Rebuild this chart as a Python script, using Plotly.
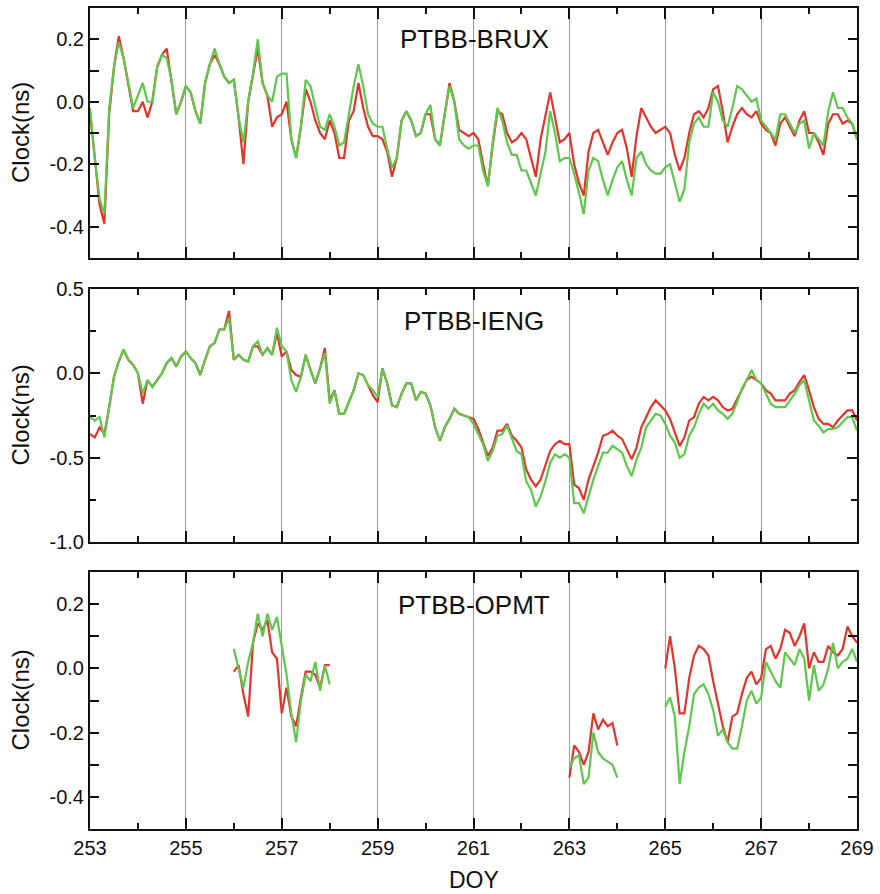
import numpy as np
import plotly.graph_objects as go

# ---------------- data ----------------
doy_full = np.round(np.arange(253.0, 269.0001, 0.1), 1)

# PTBB-BRUX
brux_red = [
    -0.03, -0.19, -0.33, -0.39, -0.04, 0.11, 0.21, 0.14, 0.06, -0.03,
    -0.03, 0.0, -0.05, 0.0, 0.11, 0.15, 0.17, 0.07, -0.04, 0.0,
    0.05, 0.03, -0.03, -0.07, 0.06, 0.12, 0.15, 0.12, 0.08, 0.06,
    0.07, -0.05, -0.20, 0.0, 0.09, 0.17, 0.06, 0.02, -0.08, -0.05,
    -0.04, 0.0, -0.12, -0.18, -0.08, 0.04, 0.0, -0.06, -0.10, -0.12,
    -0.06, -0.10, -0.18, -0.18, -0.06, -0.03, 0.06, -0.02, -0.08, -0.11,
    -0.11, -0.12, -0.16, -0.24, -0.18, -0.06, -0.03, -0.06, -0.11, -0.10,
    -0.04, -0.04, -0.12, -0.14, -0.04, 0.06, 0.0, -0.09, -0.10, -0.11,
    -0.10,
    -0.12, -0.20, -0.27, -0.14, -0.03, -0.04, -0.10, -0.13, -0.12, -0.10,
    -0.12, -0.18, -0.24, -0.12, -0.04, 0.03, -0.05, -0.13, -0.12, -0.10,
    -0.20, -0.26, -0.30, -0.16, -0.10, -0.09, -0.13, -0.17, -0.13, -0.10,
    -0.09, -0.15, -0.24, -0.11, -0.02, -0.05, -0.08, -0.10, -0.09, -0.08,
    -0.10, -0.17, -0.22, -0.18, -0.10, -0.04, -0.03, -0.05, -0.02, 0.04,
    0.05, -0.03, -0.13, -0.08, -0.04, -0.02, -0.04, -0.05, -0.03, -0.07,
    -0.09, -0.10, -0.14, -0.07, -0.05, -0.08, -0.11, -0.06, -0.03, -0.10,
    -0.10, -0.13, -0.17, -0.07, -0.04, -0.04, -0.07, -0.06, -0.07, -0.12,
]
brux_green = [
    -0.02, -0.18, -0.31, -0.36, -0.02, 0.11, 0.19, 0.14, 0.06, -0.02,
    0.02, 0.06, 0.0, 0.0, 0.11, 0.15, 0.14, 0.07, -0.04, 0.0,
    0.05, 0.03, -0.03, -0.07, 0.06, 0.12, 0.17, 0.12, 0.08, 0.06,
    0.07, -0.05, -0.13, 0.0, 0.09, 0.20, 0.06, 0.02, 0.0, 0.08,
    0.09, 0.09, -0.12, -0.18, -0.08, 0.07, 0.05, -0.02, -0.08, -0.09,
    -0.04, -0.08, -0.14, -0.13, -0.04, 0.05, 0.12, 0.05, -0.04, -0.07,
    -0.08, -0.08, -0.15, -0.21, -0.18, -0.06, -0.03, -0.06, -0.11, -0.10,
    -0.04, -0.01, -0.12, -0.14, -0.04, 0.05, 0.0, -0.12, -0.14, -0.15,
    -0.14,
    -0.14, -0.22, -0.27, -0.13, -0.02, -0.06, -0.13, -0.17, -0.17, -0.22,
    -0.22, -0.26, -0.30, -0.23, -0.16, -0.03, -0.10, -0.19, -0.18, -0.18,
    -0.23, -0.29, -0.36, -0.22, -0.18, -0.19, -0.25, -0.30, -0.25, -0.21,
    -0.19, -0.25, -0.30, -0.18, -0.16, -0.20, -0.22, -0.23, -0.23, -0.21,
    -0.20, -0.26, -0.32, -0.28, -0.13, -0.07, -0.05, -0.08, -0.08, 0.03,
    0.0, -0.06, -0.08, -0.02, 0.05, 0.04, 0.02, 0.0, 0.01, -0.06,
    -0.08, -0.10, -0.12, -0.04, -0.04, -0.07, -0.10, -0.07, -0.06, -0.15,
    -0.10, -0.12, -0.14, -0.03, 0.03, -0.02, -0.02, -0.05, -0.07, -0.12,
]

# PTBB-IENG
ieng_red = [
    -0.36, -0.38, -0.32, -0.36, -0.20, -0.02, 0.07, 0.14, 0.08, 0.05,
    0.0, -0.18, -0.04, -0.08, -0.04, 0.0, 0.06, 0.09, 0.04, 0.10,
    0.13, 0.09, 0.06, -0.01, 0.08, 0.16, 0.18, 0.26, 0.26, 0.37,
    0.08, 0.11, 0.08, 0.07, 0.16, 0.16, 0.11, 0.15, 0.11, 0.24,
    0.10, 0.13, 0.02, -0.01, -0.02, 0.11, 0.02, -0.06, 0.03, 0.15,
    -0.16, -0.10, -0.24, -0.24, -0.17, -0.10, 0.0, -0.01, -0.07, -0.13,
    -0.17, 0.03, -0.06, -0.19, -0.20, -0.12, -0.06, -0.06, -0.16, -0.11,
    -0.12, -0.19, -0.32, -0.40, -0.32, -0.27, -0.21, -0.24, -0.25, -0.26,
    -0.27,
    -0.33, -0.41, -0.49, -0.44, -0.34, -0.34, -0.30, -0.37, -0.40, -0.44,
    -0.57, -0.63, -0.67, -0.63, -0.54, -0.46, -0.42, -0.40, -0.42, -0.42,
    -0.66, -0.68, -0.75, -0.63, -0.55, -0.47, -0.37, -0.36, -0.34, -0.37,
    -0.39, -0.45, -0.51, -0.44, -0.32, -0.26, -0.20, -0.16, -0.19, -0.22,
    -0.27, -0.35, -0.43, -0.38, -0.28, -0.26, -0.18, -0.14, -0.16, -0.14,
    -0.16, -0.20, -0.22, -0.21, -0.15, -0.09, -0.04, -0.02, -0.04, -0.06,
    -0.10, -0.12, -0.16, -0.16, -0.16, -0.12, -0.10, -0.05, -0.01, -0.10,
    -0.20, -0.27, -0.30, -0.30, -0.32, -0.28, -0.25, -0.22, -0.22, -0.28,
]
ieng_green = [
    -0.26, -0.28, -0.26, -0.38, -0.20, -0.02, 0.07, 0.14, 0.08, 0.05,
    0.0, -0.12, -0.04, -0.08, -0.04, 0.0, 0.06, 0.09, 0.04, 0.10,
    0.13, 0.09, 0.06, -0.01, 0.08, 0.16, 0.18, 0.26, 0.26, 0.33,
    0.08, 0.11, 0.08, 0.07, 0.16, 0.19, 0.11, 0.15, 0.11, 0.27,
    0.16, 0.13, -0.04, -0.11, -0.02, 0.11, 0.02, -0.06, 0.03, 0.12,
    -0.18, -0.10, -0.24, -0.24, -0.17, -0.10, 0.0, -0.01, -0.07, -0.10,
    -0.14, 0.03, -0.06, -0.19, -0.20, -0.12, -0.06, -0.06, -0.16, -0.11,
    -0.12, -0.19, -0.32, -0.40, -0.32, -0.27, -0.21, -0.24, -0.25, -0.26,
    -0.30,
    -0.36, -0.42, -0.52, -0.46, -0.37, -0.36, -0.31, -0.38, -0.46, -0.48,
    -0.64, -0.69, -0.79, -0.73, -0.64, -0.53, -0.48, -0.50, -0.48, -0.50,
    -0.77, -0.77, -0.83, -0.73, -0.63, -0.55, -0.47, -0.47, -0.43, -0.45,
    -0.47, -0.55, -0.61, -0.51, -0.44, -0.32, -0.28, -0.24, -0.25, -0.30,
    -0.37, -0.41, -0.50, -0.48, -0.37, -0.32, -0.24, -0.18, -0.21, -0.18,
    -0.22, -0.24, -0.27, -0.24, -0.17, -0.09, -0.04, 0.02, -0.04, -0.06,
    -0.12, -0.18, -0.20, -0.20, -0.20, -0.16, -0.12, -0.07, -0.04, -0.16,
    -0.28, -0.31, -0.35, -0.33, -0.33, -0.32, -0.29, -0.26, -0.26, -0.34,
]

# PTBB-OPMT (three data segments)
opmt_seg_start = [256.0, 263.0, 265.0]
opmt_seg_end = [258.0, 264.0, 269.0]
opmt_red = [
    [-0.01, 0.01, -0.08, -0.15, 0.08, 0.14, 0.12, 0.15, 0.05, 0.03,
     -0.14, -0.06, -0.15, -0.18, -0.09, -0.01, -0.01, -0.02, -0.06, 0.01, 0.01],
    [-0.34, -0.24, -0.26, -0.30, -0.26, -0.14, -0.19, -0.16, -0.18, -0.17, -0.24],
    [0.0, 0.10, 0.0, -0.14, -0.14, -0.03, 0.04, 0.07, 0.06, 0.04,
     -0.04, -0.11, -0.18, -0.23, -0.15, -0.14, -0.08, -0.03, -0.01, -0.05,
     -0.03, 0.06, 0.07, 0.03, 0.06, 0.12, 0.11, 0.07, 0.10, 0.14,
     0.0, 0.05, 0.02, 0.02, 0.07, 0.05, 0.04, 0.06, 0.13, 0.10, 0.08],
]
opmt_green = [
    [0.06, 0.0, -0.06, 0.02, 0.08, 0.17, 0.10, 0.17, 0.12, 0.16,
     0.07, -0.02, -0.14, -0.23, -0.10, -0.02, -0.04, 0.02, -0.07, 0.01, -0.05],
    [-0.31, -0.28, -0.27, -0.36, -0.34, -0.20, -0.26, -0.28, -0.29, -0.30, -0.34],
    [-0.12, -0.09, -0.15, -0.36, -0.26, -0.18, -0.08, -0.06, -0.05, -0.08,
     -0.13, -0.21, -0.19, -0.23, -0.25, -0.25, -0.18, -0.10, -0.07, -0.11,
     -0.09, 0.02, -0.01, -0.04, -0.06, 0.05, 0.03, 0.01, 0.06, 0.03,
     -0.10, 0.01, -0.07, -0.05, 0.0, 0.08, 0.0, 0.02, 0.03, 0.06, 0.02],
]

panel_titles = ["PTBB-BRUX", "PTBB-IENG", "PTBB-OPMT"]
x_ticks = [253, 255, 257, 259, 261, 263, 265, 267, 269]
x_minor = [254, 256, 258, 260, 262, 264, 266, 268]
y_small_vals = [-0.5, -0.4, -0.3, -0.2, -0.1, 0.0, 0.1, 0.2, 0.3]
y_small_text = ["", "-0.4", "", "-0.2", "", "0.0", "", "0.2", ""]
y_big_vals = [-1.0, -0.5, 0.0, 0.5]
y_big_text = ["-1.0", "-0.5", "0.0", "0.5"]
y_big_minor = [-0.75, -0.25, 0.25]

# ---------------- build ----------------
RED = "#e2342a"
GREEN = "#5dc84b"
LW = 2.2


def seg_concat(segs):
    xs, ys = [], []
    for s0, s1, vals in segs:
        xx = np.round(np.arange(s0, s1 + 0.0001, 0.1), 1)
        xs += list(xx) + [None]
        ys += list(vals) + [None]
    return xs, ys


fig = go.Figure()

for ys, c, ax in [
    (brux_red, RED, 1), (brux_green, GREEN, 1),
    (ieng_red, RED, 2), (ieng_green, GREEN, 2),
]:
    fig.add_trace(go.Scatter(
        x=doy_full, y=ys, mode="lines", line=dict(color=c, width=LW),
        xaxis="x" if ax == 1 else f"x{ax}", yaxis="y" if ax == 1 else f"y{ax}",
        showlegend=False, hoverinfo="skip"))

xr, yr = seg_concat(zip(opmt_seg_start, opmt_seg_end, opmt_red))
xg, yg = seg_concat(zip(opmt_seg_start, opmt_seg_end, opmt_green))
fig.add_trace(go.Scatter(x=xr, y=yr, mode="lines", line=dict(color=RED, width=LW),
                         xaxis="x3", yaxis="y3", showlegend=False, hoverinfo="skip"))
fig.add_trace(go.Scatter(x=xg, y=yg, mode="lines", line=dict(color=GREEN, width=LW),
                         xaxis="x3", yaxis="y3", showlegend=False, hoverinfo="skip"))

FONT = "Liberation Sans, Arial, sans-serif"
W, H = 880, 894
ml, mr, mt, mb = 90, 23, 8, 65
ph = H - mt - mb
pw = W - ml - mr


def ydom(top_px, bot_px):
    return [(H - mb - bot_px) / ph, (H - mb - top_px) / ph]


doms = [ydom(8, 258), ydom(289, 542), ydom(572, 829)]
TICKFONT = dict(family=FONT, size=20, color="#111")


def xaxis_cfg(anchor, labels):
    return dict(
        domain=[0, 1], anchor=anchor, range=[253, 269], automargin=False,
        tickmode="array", tickvals=x_ticks,
        ticktext=[str(t) for t in x_ticks],
        showticklabels=labels,
        ticks="inside", ticklen=11, tickwidth=2, tickcolor="#111",
        mirror="allticks", showline=True, linewidth=2, linecolor="#111",
        showgrid=True, gridcolor="#9a9a9a", gridwidth=1, zeroline=False,
        minor=dict(tickmode="array", tickvals=x_minor,
                   ticks="inside", ticklen=6, tickwidth=2, tickcolor="#111", showgrid=False),
        tickfont=TICKFONT,
    )


def yaxis_small(anchor, dom):
    return dict(
        domain=dom, anchor=anchor, range=[-0.5, 0.3], automargin=False,
        tickmode="array", tickvals=y_small_vals, ticktext=y_small_text,
        ticks="inside", ticklen=9, tickwidth=2, tickcolor="#111",
        mirror="allticks", showline=True, linewidth=2, linecolor="#111",
        showgrid=False, zeroline=False,
        tickfont=TICKFONT,
    )


layout = dict(
    width=W, height=H, margin=dict(l=ml, r=mr, t=mt, b=mb, autoexpand=False),
    paper_bgcolor="white", plot_bgcolor="white",
    font=dict(family=FONT, color="#111"),
    xaxis=xaxis_cfg("y", False),
    xaxis2=xaxis_cfg("y2", False),
    xaxis3=xaxis_cfg("y3", True),
    yaxis=yaxis_small("x", doms[0]),
    yaxis2=dict(
        domain=doms[1], anchor="x2", range=[-1.0, 0.5], automargin=False,
        tickmode="array", tickvals=y_big_vals, ticktext=y_big_text,
        ticks="inside", ticklen=10, tickwidth=2, tickcolor="#111",
        mirror="allticks", showline=True, linewidth=2, linecolor="#111",
        showgrid=False, zeroline=False,
        minor=dict(tickmode="array", tickvals=y_big_minor,
                   ticks="inside", ticklen=6, tickwidth=2, tickcolor="#111", showgrid=False),
        tickfont=TICKFONT,
    ),
    yaxis3=yaxis_small("x3", doms[2]),
    showlegend=False,
)
fig.update_layout(**layout)

title_px = [38.5, 321, 605]
anns = []
for t, ypx, dom in zip(panel_titles, title_px, doms):
    anns.append(dict(text=t, xref="paper", yref="paper", x=(474 - ml) / pw,
                     y=(H - mb - ypx) / ph, xanchor="center", yanchor="middle",
                     showarrow=False, font=dict(family=FONT, size=26, color="#111")))
    anns.append(dict(text="Clock(ns)", xref="paper", yref="paper", x=(20 - ml) / pw,
                     y=(dom[0] + dom[1]) / 2, xanchor="center", yanchor="middle",
                     textangle=-90, showarrow=False,
                     font=dict(family=FONT, size=24, color="#111")))
anns.append(dict(text="DOY", xref="paper", yref="paper", x=(474 - ml) / pw,
                 y=(H - mb - 880) / ph, xanchor="center", yanchor="middle",
                 showarrow=False, font=dict(family=FONT, size=23, color="#111")))
fig.update_layout(annotations=anns)

fig.write_html("out.html")
